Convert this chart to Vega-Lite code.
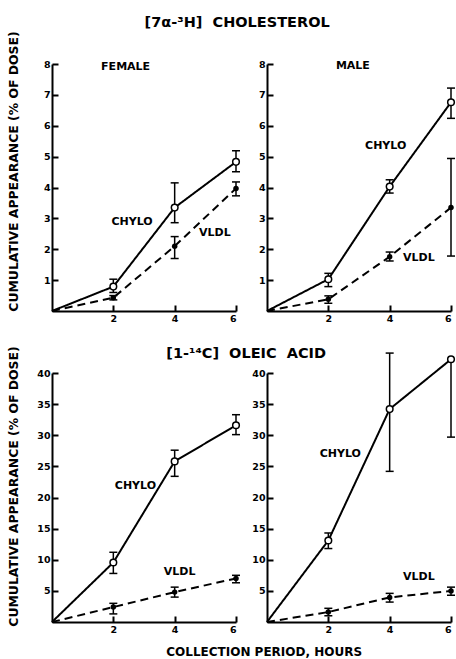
{
  "$schema": "https://vega.github.io/schema/vega-lite/v6.json",
  "background": "white",
  "padding": {"left": 6, "top": 15, "right": 0, "bottom": 2},
  "datasets": {
    "pts": [
      {"p": "FC", "s": "CHYLO", "x": 0, "y": 0, "lo": null, "hi": null},
      {"p": "FC", "s": "CHYLO", "x": 2, "y": 0.79, "lo": 0.6, "hi": 1.03},
      {"p": "FC", "s": "CHYLO", "x": 4, "y": 3.35, "lo": 2.86, "hi": 4.15},
      {"p": "FC", "s": "CHYLO", "x": 6, "y": 4.83, "lo": 4.51, "hi": 5.19},
      {"p": "FC", "s": "VLDL", "x": 0, "y": 0, "lo": null, "hi": null},
      {"p": "FC", "s": "VLDL", "x": 2, "y": 0.43, "lo": 0.36, "hi": 0.5},
      {"p": "FC", "s": "VLDL", "x": 4, "y": 2.1, "lo": 1.7, "hi": 2.41},
      {"p": "FC", "s": "VLDL", "x": 6, "y": 3.97, "lo": 3.73, "hi": 4.18},
      {"p": "MC", "s": "CHYLO", "x": 0, "y": 0, "lo": null, "hi": null},
      {"p": "MC", "s": "CHYLO", "x": 2, "y": 1.03, "lo": 0.79, "hi": 1.22},
      {"p": "MC", "s": "CHYLO", "x": 4, "y": 4.03, "lo": 3.82, "hi": 4.25},
      {"p": "MC", "s": "CHYLO", "x": 6, "y": 6.76, "lo": 6.24, "hi": 7.22},
      {"p": "MC", "s": "VLDL", "x": 0, "y": 0, "lo": null, "hi": null},
      {"p": "MC", "s": "VLDL", "x": 2, "y": 0.38, "lo": 0.25, "hi": 0.49},
      {"p": "MC", "s": "VLDL", "x": 4, "y": 1.76, "lo": 1.62, "hi": 1.91},
      {"p": "MC", "s": "VLDL", "x": 6, "y": 3.35, "lo": 1.78, "hi": 4.94},
      {"p": "FO", "s": "CHYLO", "x": 0, "y": 0, "lo": null, "hi": null},
      {"p": "FO", "s": "CHYLO", "x": 2, "y": 9.56, "lo": 7.8, "hi": 11.2},
      {"p": "FO", "s": "CHYLO", "x": 4, "y": 25.8, "lo": 23.4, "hi": 27.6},
      {"p": "FO", "s": "CHYLO", "x": 6, "y": 31.6, "lo": 30.1, "hi": 33.3},
      {"p": "FO", "s": "VLDL", "x": 0, "y": 0, "lo": null, "hi": null},
      {"p": "FO", "s": "VLDL", "x": 2, "y": 2.4, "lo": 1.3, "hi": 3.0},
      {"p": "FO", "s": "VLDL", "x": 4, "y": 4.8, "lo": 4.0, "hi": 5.6},
      {"p": "FO", "s": "VLDL", "x": 6, "y": 7.0, "lo": 6.3, "hi": 7.5},
      {"p": "MO", "s": "CHYLO", "x": 0, "y": 0, "lo": null, "hi": null},
      {"p": "MO", "s": "CHYLO", "x": 2, "y": 13.1, "lo": 11.8, "hi": 14.3},
      {"p": "MO", "s": "CHYLO", "x": 4, "y": 34.2, "lo": 24.2, "hi": 43.2},
      {"p": "MO", "s": "CHYLO", "x": 6, "y": 42.2, "lo": 29.7, "hi": 42.2},
      {"p": "MO", "s": "VLDL", "x": 0, "y": 0, "lo": null, "hi": null},
      {"p": "MO", "s": "VLDL", "x": 2, "y": 1.6, "lo": 1.0, "hi": 2.2},
      {"p": "MO", "s": "VLDL", "x": 4, "y": 3.95, "lo": 3.2, "hi": 4.6},
      {"p": "MO", "s": "VLDL", "x": 6, "y": 5.0, "lo": 4.3, "hi": 5.6}
    ],
    "labs": [
      {"p": "FC", "t": "FEMALE", "x": 2.4, "y": 7.9},
      {"p": "FC", "t": "CHYLO", "x": 2.61, "y": 2.88},
      {"p": "FC", "t": "VLDL", "x": 5.31, "y": 2.52},
      {"p": "MC", "t": "MALE", "x": 2.8, "y": 7.93},
      {"p": "MC", "t": "CHYLO", "x": 3.87, "y": 5.34},
      {"p": "MC", "t": "VLDL", "x": 4.95, "y": 1.72},
      {"p": "FO", "t": "CHYLO", "x": 2.72, "y": 21.8},
      {"p": "FO", "t": "VLDL", "x": 4.16, "y": 8.0},
      {"p": "MO", "t": "CHYLO", "x": 2.39, "y": 27.0},
      {"p": "MO", "t": "VLDL", "x": 4.95, "y": 7.2}
    ]
  },
  "title": {"text": "COLLECTION  PERIOD,  HOURS", "orient": "bottom", "anchor": "middle", "dx": 32, "offset": 13, "fontSize": 12},
  "spacing": 22,
  "vconcat": [
    {
      "title": {"text": "[7α-³H]\u00a0 CHOLESTEROL", "anchor": "middle", "offset": 0, "dx": 5, "fontSize": 14.5},
      "bounds": "flush",
      "spacing": 31,
      "hconcat": [
        {
          "width": 184, "height": 247,
          "layer": [
            {"data": {"name": "pts"}, "transform": [{"filter": "datum.p === 'FC'"}],
             "mark": {"type": "line", "color": "black", "strokeWidth": 2},
             "encoding": {
               "x": {"field": "x", "type": "quantitative", "title": null, "scale": {"domain": [0, 6], "nice": false}, "axis": {"values": [2, 4, 6], "labelOverlap": false}},
               "y": {"field": "y", "type": "quantitative", "title": "CUMULATIVE APPEARANCE (% OF DOSE)", "scale": {"domain": [0, 8], "nice": false}, "axis": {"values": [1, 2, 3, 4, 5, 6, 7, 8], "labelOverlap": false, "tickCount": 8, "titleX": -32, "titleY": 107}},
               "strokeDash": {"field": "s", "type": "nominal", "scale": {"domain": ["CHYLO", "VLDL"], "range": [[1, 0], [8, 5]]}, "legend": null}
             }},
            {"data": {"name": "pts"}, "transform": [{"filter": "datum.p === 'FC' && isValid(datum.lo)"}],
             "mark": {"type": "rule", "color": "black", "strokeWidth": 1.5},
             "encoding": {
               "x": {"field": "x", "type": "quantitative"},
               "y": {"field": "lo", "type": "quantitative", "title": "CUMULATIVE APPEARANCE (% OF DOSE)"},
               "y2": {"field": "hi"}
             }},
            {"data": {"name": "pts"}, "transform": [{"filter": "datum.p === 'FC' && isValid(datum.lo)"}],
             "mark": {"type": "tick", "orient": "horizontal", "size": 8, "thickness": 1.5, "color": "black", "opacity": 1},
             "encoding": {
               "x": {"field": "x", "type": "quantitative"},
               "y": {"field": "lo", "type": "quantitative", "title": "CUMULATIVE APPEARANCE (% OF DOSE)"}
             }},
            {"data": {"name": "pts"}, "transform": [{"filter": "datum.p === 'FC' && isValid(datum.lo)"}],
             "mark": {"type": "tick", "orient": "horizontal", "size": 8, "thickness": 1.5, "color": "black", "opacity": 1},
             "encoding": {
               "x": {"field": "x", "type": "quantitative"},
               "y": {"field": "hi", "type": "quantitative", "title": "CUMULATIVE APPEARANCE (% OF DOSE)"}
             }},
            {"data": {"name": "pts"}, "transform": [{"filter": "datum.p === 'FC' && datum.s === 'CHYLO' && datum.x > 0"}],
             "mark": {"type": "circle", "fill": "white", "stroke": "black", "strokeWidth": 1.5, "size": 44, "opacity": 1},
             "encoding": {
               "x": {"field": "x", "type": "quantitative"},
               "y": {"field": "y", "type": "quantitative", "title": "CUMULATIVE APPEARANCE (% OF DOSE)"}
             }},
            {"data": {"name": "pts"}, "transform": [{"filter": "datum.p === 'FC' && datum.s === 'VLDL' && datum.x > 0"}],
             "mark": {"type": "circle", "color": "black", "size": 30, "opacity": 1},
             "encoding": {
               "x": {"field": "x", "type": "quantitative"},
               "y": {"field": "y", "type": "quantitative", "title": "CUMULATIVE APPEARANCE (% OF DOSE)"}
             }},
            {"data": {"name": "labs"}, "transform": [{"filter": "datum.p === 'FC'"}],
             "mark": {"type": "text", "fontWeight": "bold", "fontSize": 11, "color": "black", "align": "center", "baseline": "middle"},
             "encoding": {
               "x": {"field": "x", "type": "quantitative"},
               "y": {"field": "y", "type": "quantitative", "title": "CUMULATIVE APPEARANCE (% OF DOSE)"},
               "text": {"field": "t"}
             }}
          ]
        },
        {
          "width": 184, "height": 247,
          "layer": [
            {"data": {"name": "pts"}, "transform": [{"filter": "datum.p === 'MC'"}],
             "mark": {"type": "line", "color": "black", "strokeWidth": 2},
             "encoding": {
               "x": {"field": "x", "type": "quantitative", "title": null, "scale": {"domain": [0, 6], "nice": false}, "axis": {"values": [2, 4, 6], "labelOverlap": false}},
               "y": {"field": "y", "type": "quantitative", "title": null, "scale": {"domain": [0, 8], "nice": false}, "axis": {"values": [1, 2, 3, 4, 5, 6, 7, 8], "labelOverlap": false, "tickCount": 8}},
               "strokeDash": {"field": "s", "type": "nominal", "scale": {"domain": ["CHYLO", "VLDL"], "range": [[1, 0], [8, 5]]}, "legend": null}
             }},
            {"data": {"name": "pts"}, "transform": [{"filter": "datum.p === 'MC' && isValid(datum.lo)"}],
             "mark": {"type": "rule", "color": "black", "strokeWidth": 1.5},
             "encoding": {
               "x": {"field": "x", "type": "quantitative"},
               "y": {"field": "lo", "type": "quantitative", "title": null},
               "y2": {"field": "hi"}
             }},
            {"data": {"name": "pts"}, "transform": [{"filter": "datum.p === 'MC' && isValid(datum.lo)"}],
             "mark": {"type": "tick", "orient": "horizontal", "size": 8, "thickness": 1.5, "color": "black", "opacity": 1},
             "encoding": {
               "x": {"field": "x", "type": "quantitative"},
               "y": {"field": "lo", "type": "quantitative", "title": null}
             }},
            {"data": {"name": "pts"}, "transform": [{"filter": "datum.p === 'MC' && isValid(datum.lo)"}],
             "mark": {"type": "tick", "orient": "horizontal", "size": 8, "thickness": 1.5, "color": "black", "opacity": 1},
             "encoding": {
               "x": {"field": "x", "type": "quantitative"},
               "y": {"field": "hi", "type": "quantitative", "title": null}
             }},
            {"data": {"name": "pts"}, "transform": [{"filter": "datum.p === 'MC' && datum.s === 'CHYLO' && datum.x > 0"}],
             "mark": {"type": "circle", "fill": "white", "stroke": "black", "strokeWidth": 1.5, "size": 44, "opacity": 1},
             "encoding": {
               "x": {"field": "x", "type": "quantitative"},
               "y": {"field": "y", "type": "quantitative", "title": null}
             }},
            {"data": {"name": "pts"}, "transform": [{"filter": "datum.p === 'MC' && datum.s === 'VLDL' && datum.x > 0"}],
             "mark": {"type": "circle", "color": "black", "size": 30, "opacity": 1},
             "encoding": {
               "x": {"field": "x", "type": "quantitative"},
               "y": {"field": "y", "type": "quantitative", "title": null}
             }},
            {"data": {"name": "labs"}, "transform": [{"filter": "datum.p === 'MC'"}],
             "mark": {"type": "text", "fontWeight": "bold", "fontSize": 11, "color": "black", "align": "center", "baseline": "middle"},
             "encoding": {
               "x": {"field": "x", "type": "quantitative"},
               "y": {"field": "y", "type": "quantitative", "title": null},
               "text": {"field": "t"}
             }}
          ]
        }
      ]
    },
    {
      "title": {"text": "[1-¹⁴C]\u00a0 OLEIC\u00a0 ACID", "anchor": "middle", "offset": -16, "dx": 14, "fontSize": 14.5},
      "bounds": "flush",
      "spacing": 31,
      "hconcat": [
        {
          "width": 184, "height": 249,
          "layer": [
            {"data": {"name": "pts"}, "transform": [{"filter": "datum.p === 'FO'"}],
             "mark": {"type": "line", "color": "black", "strokeWidth": 2},
             "encoding": {
               "x": {"field": "x", "type": "quantitative", "title": null, "scale": {"domain": [0, 6], "nice": false}, "axis": {"values": [2, 4, 6], "labelOverlap": false}},
               "y": {"field": "y", "type": "quantitative", "title": "CUMULATIVE APPEARANCE (% OF DOSE)", "scale": {"domain": [0, 40], "nice": false}, "axis": {"values": [5, 10, 15, 20, 25, 30, 35, 40], "labelOverlap": false, "tickCount": 8, "titleX": -32, "titleY": 113}},
               "strokeDash": {"field": "s", "type": "nominal", "scale": {"domain": ["CHYLO", "VLDL"], "range": [[1, 0], [8, 5]]}, "legend": null}
             }},
            {"data": {"name": "pts"}, "transform": [{"filter": "datum.p === 'FO' && isValid(datum.lo)"}],
             "mark": {"type": "rule", "color": "black", "strokeWidth": 1.5},
             "encoding": {
               "x": {"field": "x", "type": "quantitative"},
               "y": {"field": "lo", "type": "quantitative", "title": "CUMULATIVE APPEARANCE (% OF DOSE)"},
               "y2": {"field": "hi"}
             }},
            {"data": {"name": "pts"}, "transform": [{"filter": "datum.p === 'FO' && isValid(datum.lo)"}],
             "mark": {"type": "tick", "orient": "horizontal", "size": 8, "thickness": 1.5, "color": "black", "opacity": 1},
             "encoding": {
               "x": {"field": "x", "type": "quantitative"},
               "y": {"field": "lo", "type": "quantitative", "title": "CUMULATIVE APPEARANCE (% OF DOSE)"}
             }},
            {"data": {"name": "pts"}, "transform": [{"filter": "datum.p === 'FO' && isValid(datum.lo)"}],
             "mark": {"type": "tick", "orient": "horizontal", "size": 8, "thickness": 1.5, "color": "black", "opacity": 1},
             "encoding": {
               "x": {"field": "x", "type": "quantitative"},
               "y": {"field": "hi", "type": "quantitative", "title": "CUMULATIVE APPEARANCE (% OF DOSE)"}
             }},
            {"data": {"name": "pts"}, "transform": [{"filter": "datum.p === 'FO' && datum.s === 'CHYLO' && datum.x > 0"}],
             "mark": {"type": "circle", "fill": "white", "stroke": "black", "strokeWidth": 1.5, "size": 44, "opacity": 1},
             "encoding": {
               "x": {"field": "x", "type": "quantitative"},
               "y": {"field": "y", "type": "quantitative", "title": "CUMULATIVE APPEARANCE (% OF DOSE)"}
             }},
            {"data": {"name": "pts"}, "transform": [{"filter": "datum.p === 'FO' && datum.s === 'VLDL' && datum.x > 0"}],
             "mark": {"type": "circle", "color": "black", "size": 30, "opacity": 1},
             "encoding": {
               "x": {"field": "x", "type": "quantitative"},
               "y": {"field": "y", "type": "quantitative", "title": "CUMULATIVE APPEARANCE (% OF DOSE)"}
             }},
            {"data": {"name": "labs"}, "transform": [{"filter": "datum.p === 'FO'"}],
             "mark": {"type": "text", "fontWeight": "bold", "fontSize": 11, "color": "black", "align": "center", "baseline": "middle"},
             "encoding": {
               "x": {"field": "x", "type": "quantitative"},
               "y": {"field": "y", "type": "quantitative", "title": "CUMULATIVE APPEARANCE (% OF DOSE)"},
               "text": {"field": "t"}
             }}
          ]
        },
        {
          "width": 184, "height": 249,
          "layer": [
            {"data": {"name": "pts"}, "transform": [{"filter": "datum.p === 'MO'"}],
             "mark": {"type": "line", "color": "black", "strokeWidth": 2, "clip": false},
             "encoding": {
               "x": {"field": "x", "type": "quantitative", "title": null, "scale": {"domain": [0, 6], "nice": false}, "axis": {"values": [2, 4, 6], "labelOverlap": false}},
               "y": {"field": "y", "type": "quantitative", "title": null, "scale": {"domain": [0, 40], "nice": false}, "axis": {"values": [5, 10, 15, 20, 25, 30, 35, 40], "labelOverlap": false, "tickCount": 8}},
               "strokeDash": {"field": "s", "type": "nominal", "scale": {"domain": ["CHYLO", "VLDL"], "range": [[1, 0], [8, 5]]}, "legend": null}
             }},
            {"data": {"name": "pts"}, "transform": [{"filter": "datum.p === 'MO' && isValid(datum.lo)"}],
             "mark": {"type": "rule", "color": "black", "strokeWidth": 1.5, "clip": false},
             "encoding": {
               "x": {"field": "x", "type": "quantitative"},
               "y": {"field": "lo", "type": "quantitative", "title": null},
               "y2": {"field": "hi"}
             }},
            {"data": {"name": "pts"}, "transform": [{"filter": "datum.p === 'MO' && isValid(datum.lo)"}],
             "mark": {"type": "tick", "orient": "horizontal", "size": 8, "thickness": 1.5, "color": "black", "opacity": 1, "clip": false},
             "encoding": {
               "x": {"field": "x", "type": "quantitative"},
               "y": {"field": "lo", "type": "quantitative", "title": null}
             }},
            {"data": {"name": "pts"}, "transform": [{"filter": "datum.p === 'MO' && isValid(datum.lo)"}],
             "mark": {"type": "tick", "orient": "horizontal", "size": 8, "thickness": 1.5, "color": "black", "opacity": 1, "clip": false},
             "encoding": {
               "x": {"field": "x", "type": "quantitative"},
               "y": {"field": "hi", "type": "quantitative", "title": null}
             }},
            {"data": {"name": "pts"}, "transform": [{"filter": "datum.p === 'MO' && datum.s === 'CHYLO' && datum.x > 0"}],
             "mark": {"type": "circle", "fill": "white", "stroke": "black", "strokeWidth": 1.5, "size": 44, "opacity": 1, "clip": false},
             "encoding": {
               "x": {"field": "x", "type": "quantitative"},
               "y": {"field": "y", "type": "quantitative", "title": null}
             }},
            {"data": {"name": "pts"}, "transform": [{"filter": "datum.p === 'MO' && datum.s === 'VLDL' && datum.x > 0"}],
             "mark": {"type": "circle", "color": "black", "size": 30, "opacity": 1},
             "encoding": {
               "x": {"field": "x", "type": "quantitative"},
               "y": {"field": "y", "type": "quantitative", "title": null}
             }},
            {"data": {"name": "labs"}, "transform": [{"filter": "datum.p === 'MO'"}],
             "mark": {"type": "text", "fontWeight": "bold", "fontSize": 11, "color": "black", "align": "center", "baseline": "middle"},
             "encoding": {
               "x": {"field": "x", "type": "quantitative"},
               "y": {"field": "y", "type": "quantitative", "title": null},
               "text": {"field": "t"}
             }}
          ]
        }
      ]
    }
  ],
  "config": {
    "font": "DejaVu Sans",
    "view": {"stroke": null},
    "text": {"font": "DejaVu Sans"},
    "axis": {
      "grid": false,
      "domainColor": "black", "domainWidth": 2,
      "tickColor": "black", "tickWidth": 2, "tickSize": -6,
      "labelOverlap": false,
      "labelFont": "DejaVu Sans", "labelFontWeight": "bold", "labelFontSize": 9.5, "labelColor": "black", "labelPadding": 8,
      "titleFont": "DejaVu Sans", "titleFontWeight": "bold", "titleFontSize": 12.4, "titleColor": "black"
    },
    "title": {"font": "DejaVu Sans", "fontWeight": "bold", "fontSize": 14, "color": "black"}
  }
}
